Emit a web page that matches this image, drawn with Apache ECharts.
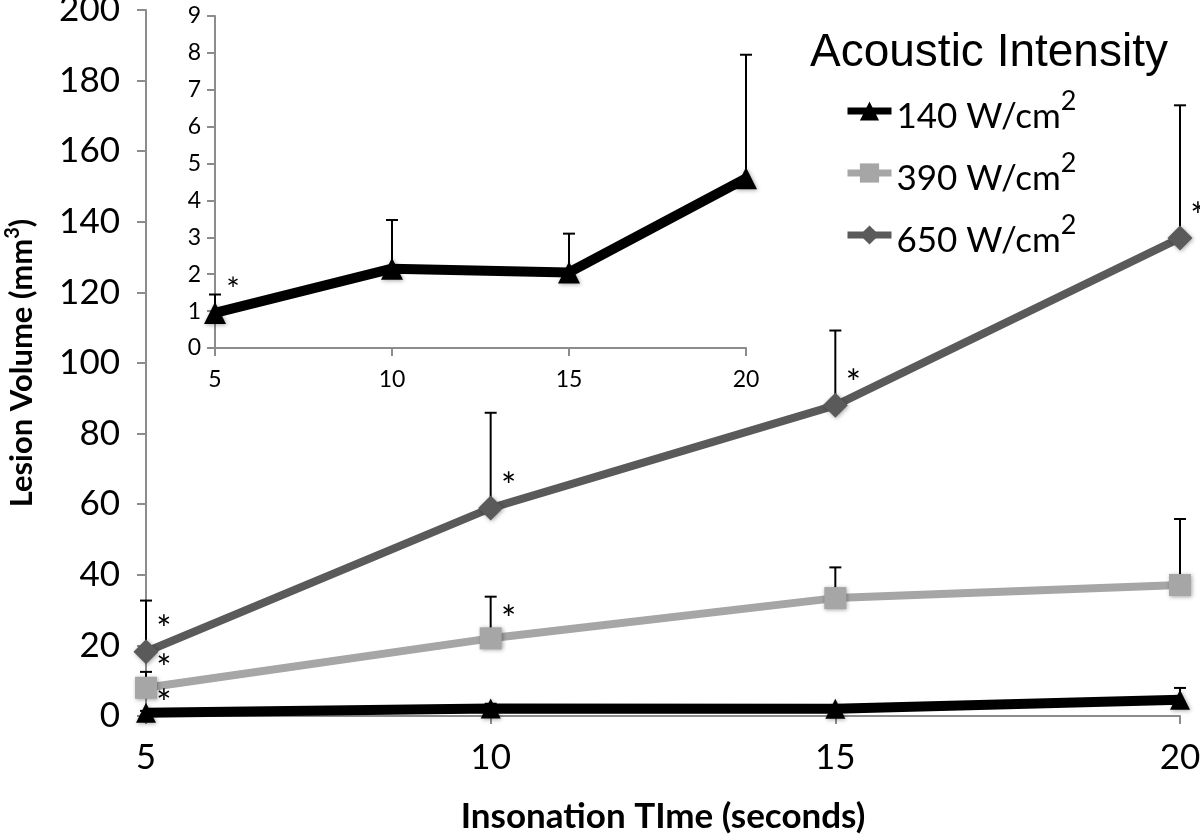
<!DOCTYPE html>
<html><head><meta charset="utf-8">
<script src="https://cdn.jsdelivr.net/npm/echarts@6/dist/echarts.min.js"></script>
<style>html,body{margin:0;padding:0;background:#fff}#c{width:1200px;height:836px}</style>
</head><body><div id="c"></div>
<script>
// ---- data ----
const times = [5, 10, 15, 20];
const names = ['140 W/cm', '390 W/cm', '650 W/cm'];
const v140 = [0.95, 2.15, 2.05, 4.6];
const e140 = [0.5, 1.32, 1.05, 3.35];
const v390 = [8.0, 22.0, 33.4, 37.1];
const e390 = [4.5, 11.8, 8.7, 18.7];
const v650 = [18.2, 58.9, 88.0, 135.4];
const e650 = [14.5, 27.0, 21.2, 37.6];
const sig140 = [1, 0, 0, 0];
const sig390 = [1, 1, 0, 0];
const sig650 = [1, 1, 1, 1];
const mainYMax = 200, mainYStep = 20;
const insetYMax = 9, insetYStep = 1;
const xMin = 5, xMax = 20, xStep = 5;

const colors = ['#000000', '#a6a6a6', '#5a5a5a'];
const symbols = ['triangle', 'rect', 'diamond'];
const symSizes = [20, 22, 25];
const lineW = [10, 8, 8];
const starDy = [-8, -18, -21];
const tickFont = 'Lato';

function pts(v) { return times.map((t, i) => [t, v[i]]); }
function errData(v, e) { return times.map((t, i) => [t, v[i], v[i] + e[i]]); }
function sigData(v, s) { return times.map((t, i) => [t, v[i]]).filter((d, i) => s[i]); }

function errRender(params, api) {
  const p0 = api.coord([api.value(0), api.value(1)]);
  const p1 = api.coord([api.value(0), api.value(2)]);
  return { type: 'group', children: [
    { type: 'line', shape: { x1: p0[0], y1: p0[1], x2: p1[0], y2: p1[1] }, style: { stroke: '#000', lineWidth: 2 } },
    { type: 'line', shape: { x1: p1[0] - 6, y1: p1[1], x2: p1[0] + 6, y2: p1[1] }, style: { stroke: '#000', lineWidth: 2 } }
  ]};
}
function starRender(dx, dy, size) {
  return function (params, api) {
    const p = api.coord([api.value(0), api.value(1)]);
    return { type: 'text', x: p[0] + dx, y: p[1] + dy,
      style: { text: '*', font: size + 'px Lato', fill: '#000', align: 'center', verticalAlign: 'middle' } };
  };
}

const axisLineStyle = { color: '#8c8c8c', width: 2 };
const series = [];
const vals = [v140, v390, v650], errs = [e140, e390, e650], sigs = [sig140, sig390, sig650];
for (let k = 0; k < 3; k++) {
  series.push({ type: 'custom', xAxisIndex: 0, yAxisIndex: 0, z: 1, silent: true,
    renderItem: errRender, data: errData(vals[k], errs[k]) });
}
for (let k = 0; k < 3; k++) {
  series.push({ type: 'line', name: names[k], xAxisIndex: 0, yAxisIndex: 0, z: 3 + k,
    data: pts(vals[k]), symbol: symbols[k], symbolSize: symSizes[k], showSymbol: true,
    lineStyle: { color: colors[k], width: lineW[k] },
    itemStyle: { color: colors[k], shadowBlur: 4, shadowColor: 'rgba(0,0,0,0.35)', shadowOffsetX: 1, shadowOffsetY: 1 },
    animation: false });
  series.push({ type: 'custom', xAxisIndex: 0, yAxisIndex: 0, z: 10, silent: true,
    renderItem: starRender(18, starDy[k], 36), data: sigData(vals[k], sigs[k]) });
}
// inset
series.push({ type: 'custom', xAxisIndex: 1, yAxisIndex: 1, z: 1, silent: true,
  renderItem: errRender, data: errData(v140, e140) });
series.push({ type: 'line', name: 'inset', xAxisIndex: 1, yAxisIndex: 1, z: 3,
  data: pts(v140), symbol: 'triangle', symbolSize: 22,
  lineStyle: { color: '#000', width: 10 },
  itemStyle: { color: '#000', shadowBlur: 4, shadowColor: 'rgba(0,0,0,0.35)', shadowOffsetX: 1, shadowOffsetY: 1 },
  animation: false });
series.push({ type: 'custom', xAxisIndex: 1, yAxisIndex: 1, z: 10, silent: true,
  renderItem: starRender(18, -22, 32), data: sigData(v140, sig140) });

const chart = echarts.init(document.getElementById('c'), null, { renderer: 'canvas' });
chart.setOption({
  animation: false,
  backgroundColor: '#fff',
  title: { text: 'Acoustic Intensity', left: 805, top: 25,
    textStyle: { fontFamily: 'Liberation Sans', fontSize: 46, fontWeight: 'normal', color: '#000' } },
  legend: {
    data: names, orient: 'vertical', left: 839, top: 83, itemGap: 16,
    itemWidth: 44, itemHeight: 24,
    lineStyle: { width: 7 },
    formatter: n => '{n|' + n + '}{s|2}',
    textStyle: { rich: {
      n: { fontFamily: tickFont, fontSize: 35, color: '#000', lineHeight: 46, verticalAlign: 'bottom' },
      s: { fontFamily: tickFont, fontSize: 27, color: '#000', lineHeight: 46, verticalAlign: 'top', padding: [0, 0, 18, 0] }
    } }
  },
  grid: [
    { left: 146, right: 20, top: 10, bottom: 120, outerBoundsMode: 'none', containLabel: false },
    { left: 215, right: 454, top: 16, bottom: 488, outerBoundsMode: 'none', containLabel: false }
  ],
  xAxis: [
    { type: 'value', gridIndex: 0, min: xMin, max: xMax, interval: xStep,
      name: 'Insonation TIme (seconds)', nameLocation: 'middle', nameGap: 83,
      nameTextStyle: { fontFamily: tickFont, fontWeight: 'bold', fontSize: 35, color: '#000' },
      axisLine: { lineStyle: axisLineStyle }, axisTick: { show: true, length: 8, lineStyle: axisLineStyle },
      axisLabel: { fontFamily: tickFont, fontSize: 35, color: '#000', margin: 24 },
      splitLine: { show: false } },
    { type: 'value', gridIndex: 1, min: xMin, max: xMax, interval: xStep,
      axisLine: { lineStyle: axisLineStyle }, axisTick: { show: true, length: 8, lineStyle: axisLineStyle },
      axisLabel: { fontFamily: tickFont, fontSize: 23, color: '#000', margin: 20 },
      splitLine: { show: false } }
  ],
  yAxis: [
    { type: 'value', gridIndex: 0, min: 0, max: mainYMax, interval: mainYStep,
      name: '{a|Lesion Volume (mm}{s|3}{a|)}', nameLocation: 'middle', nameGap: 105, nameRotate: 90,
      nameTextStyle: { rich: {
        a: { fontFamily: tickFont, fontWeight: 'bold', fontSize: 31, color: '#000', lineHeight: 38 },
        s: { fontFamily: tickFont, fontWeight: 'bold', fontSize: 20, color: '#000', verticalAlign: 'top', lineHeight: 38, padding: [0, 0, 12, 0] }
      } },
      axisLine: { show: true, lineStyle: axisLineStyle }, axisTick: { show: true, length: 9, lineStyle: axisLineStyle },
      axisLabel: { fontFamily: tickFont, fontSize: 35, color: '#000', margin: 26 },
      splitLine: { show: false } },
    { type: 'value', gridIndex: 1, min: 0, max: insetYMax, interval: insetYStep,
      axisLine: { show: true, lineStyle: axisLineStyle }, axisTick: { show: true, length: 8, lineStyle: axisLineStyle },
      axisLabel: { fontFamily: tickFont, fontSize: 23, color: '#000', margin: 14 },
      splitLine: { show: false } }
  ],
  series: series
});
</script></body></html>
